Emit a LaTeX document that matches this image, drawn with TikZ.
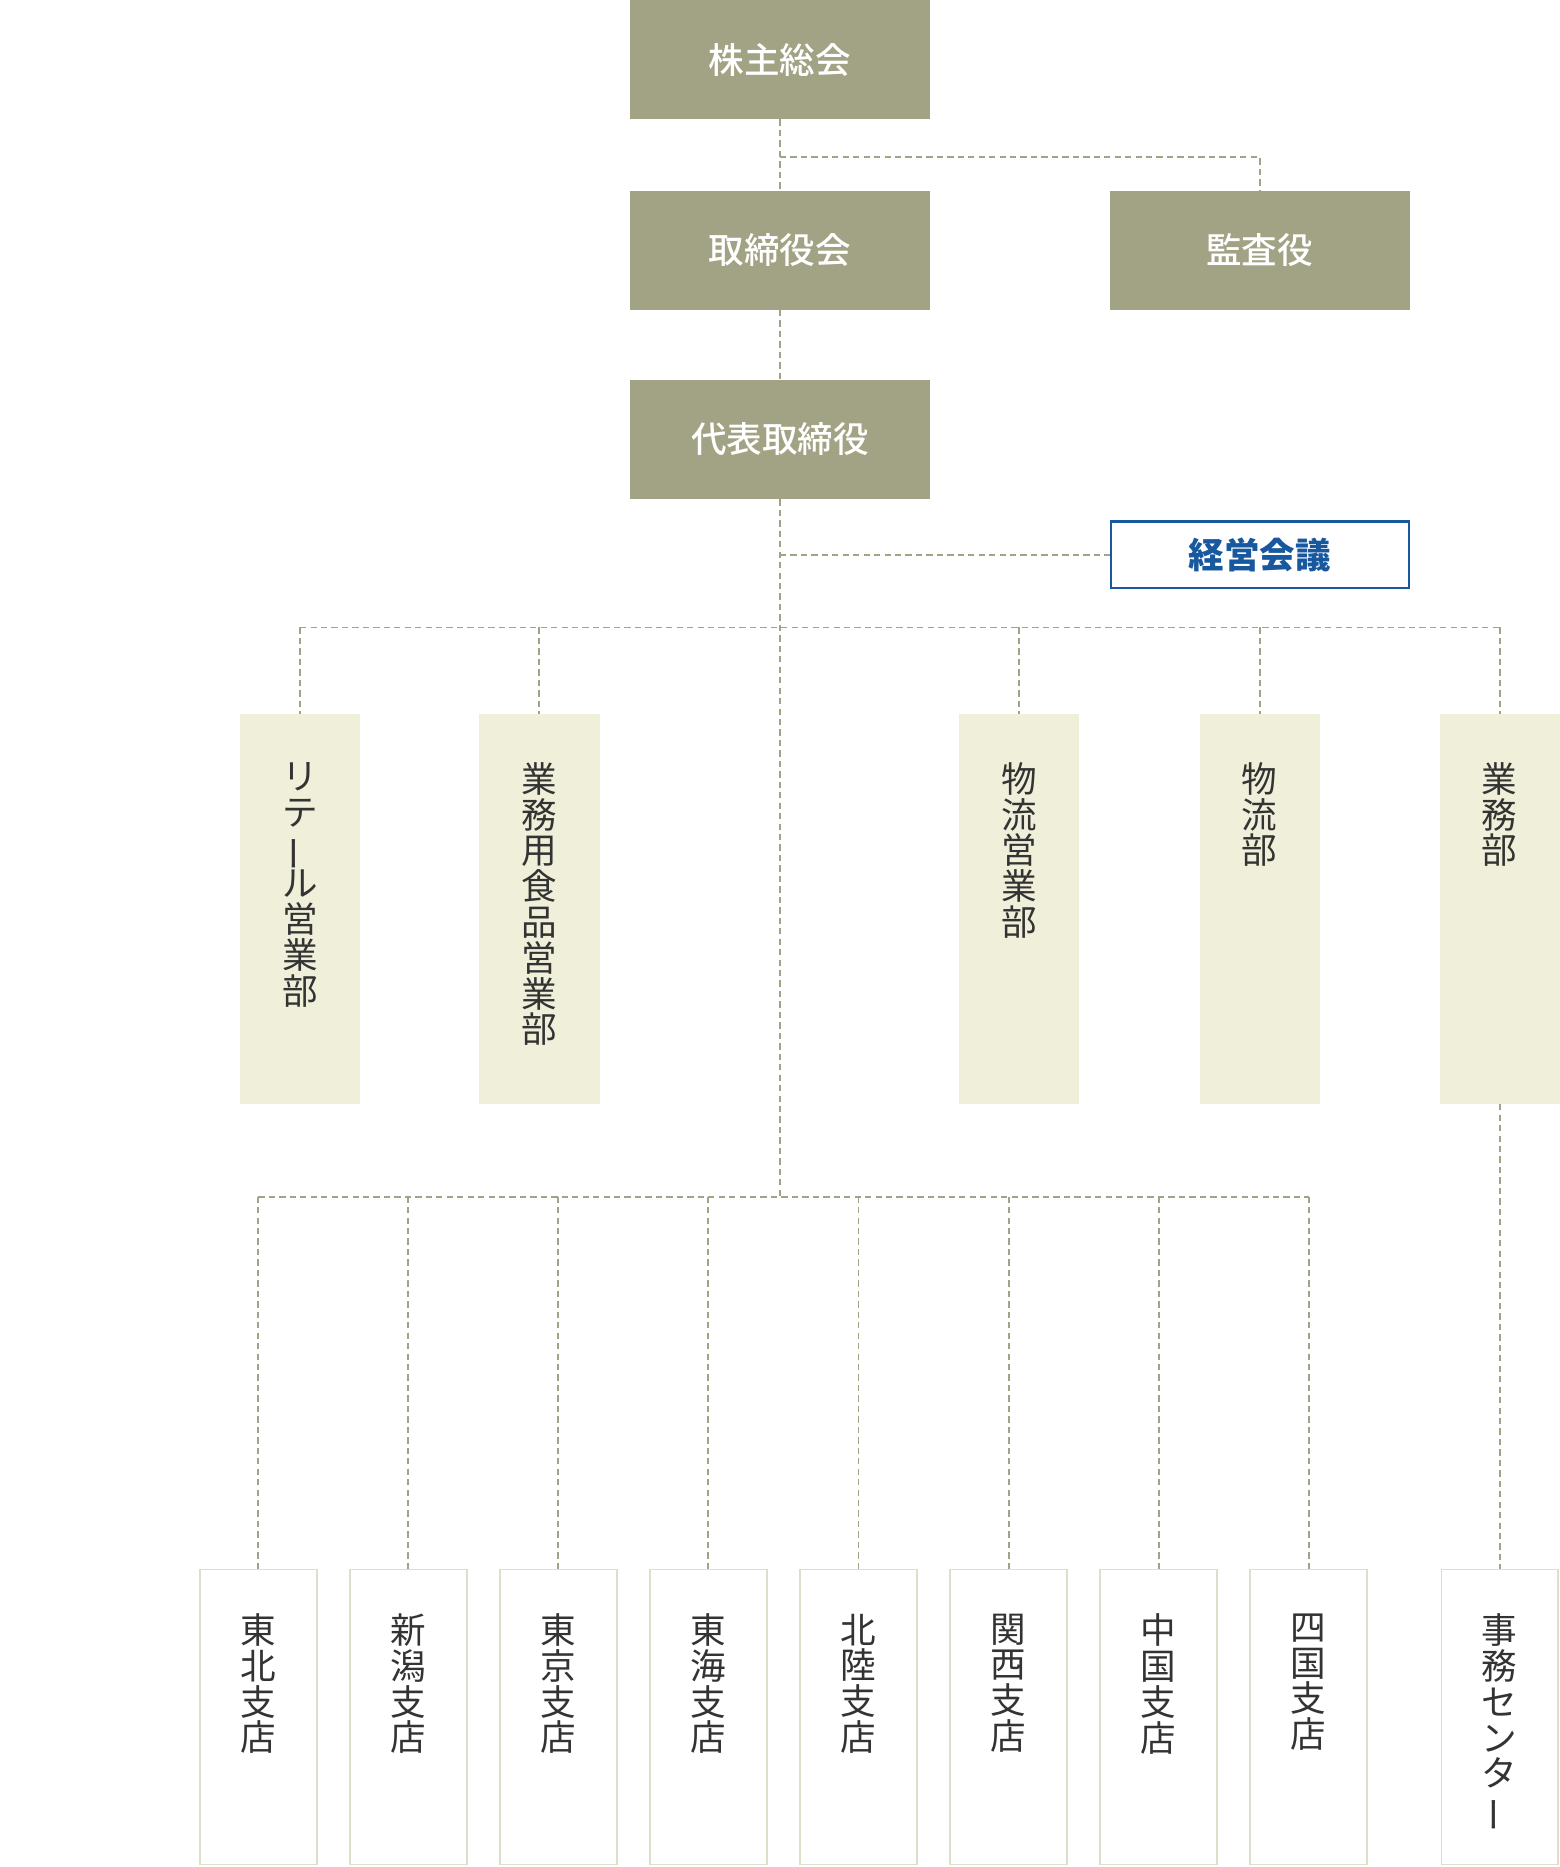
\documentclass[tikz,border=0pt]{standalone}
\usepackage{fontspec}
\setmainfont{Noto Sans CJK JP}
\newfontfamily\medfont{Noto Sans CJK JP Medium}
\usepackage{graphicx,xcolor}
\definecolor{orgolive}{RGB}{162,162,132}
\definecolor{orgcream}{RGB}{240,240,218}
\definecolor{orgline}{RGB}{222,222,202}
\definecolor{orgblue}{RGB}{24,88,158}
\definecolor{orgtext}{RGB}{51,51,51}
\usepackage{tikz}
\usetikzlibrary{positioning}
\newcommand{\chouon}{\rotatebox[origin=c]{90}{ー}}
\newcommand{\tightlines}{\setlength{\lineskiplimit}{-20pt}}

\begin{document}
\begin{tikzpicture}[
  x=0.02cm, y=-0.02cm,
  every node/.style={font=\fontsize{17}{17.1}\selectfont},
  topbox/.style={fill=orgolive,minimum width=5.04cm,minimum height=2cm,inner sep=0pt,
                 text=white,font=\fontsize{17}{17.1}\selectfont\medfont},
  meetbox/.style={draw=orgblue,line width=1pt,fill=white,minimum width=5.0cm,minimum height=1.12cm,
                  inner sep=0pt,text=orgblue,font=\fontsize{17}{17.1}\selectfont\bfseries},
  deptbox/.style={fill=orgcream,minimum width=2.02cm,minimum height=6.54cm,inner sep=0pt},
  branchbox/.style={draw=orgline,line width=0.8pt,fill=white,minimum width=1.96cm,
                    minimum height=4.96cm,inner sep=0pt},
  vlabel/.style={anchor=north,align=center,inner sep=0pt,text=orgtext,
                 font=\fontsize{17}{17.1}\selectfont\tightlines},
  link/.style={draw=orgolive,line width=0.95pt,dash pattern=on 3pt off 2pt},
]
  \fill[white] (0,0) rectangle (1310,1568);
  \useasboundingbox (0,0) rectangle (1310,1568);

  % Governance
  \node[topbox] (agm) at (655,50) {株主総会};
  \node[topbox] (board) at (655,210) {取締役会};
  \node[topbox] (audit) at (1058,210) {監査役};
  \node[topbox] (ceo) at (655,369) {代表取締役};
  \node[meetbox] (mgmt) at (1058,466) {経営会議};

  % Departments
  \node[deptbox] (retail) at (252,763.5) {};
  \node[vlabel] (retailtxt) at (252,640) {リ\\テ\\\chouon\\ル\\営\\業\\部};
  \node[deptbox] (foodsvc) at (453,763.5) {};
  \node[vlabel] (foodsvctxt) at (453,640) {業\\務\\用\\食\\品\\営\\業\\部};
  \node[deptbox] (logisales) at (856,763.5) {};
  \node[vlabel] (logisalestxt) at (856,640) {物\\流\\営\\業\\部};
  \node[deptbox] (logi) at (1058,763.5) {};
  \node[vlabel] (logitxt) at (1058,640) {物\\流\\部};
  \node[deptbox] (ops) at (1259.5,763.5) {};
  \node[vlabel] (opstxt) at (1259.5,640) {業\\務\\部};

  % Branches
  \node[branchbox] (tohoku) at (217,1442) {};
  \node[vlabel] (tohokutxt) at (217,1355) {東\\北\\支\\店};
  \node[branchbox] (niigata) at (343,1442) {};
  \node[vlabel] (niigatatxt) at (343,1355) {新\\潟\\支\\店};
  \node[branchbox] (tokyo) at (469,1442) {};
  \node[vlabel] (tokyotxt) at (469,1355) {東\\京\\支\\店};
  \node[branchbox] (tokai) at (595,1442) {};
  \node[vlabel] (tokaitxt) at (595,1355) {東\\海\\支\\店};
  \node[branchbox] (hokuriku) at (721,1442) {};
  \node[vlabel] (hokurikutxt) at (721,1355) {北\\陸\\支\\店};
  \node[branchbox] (kansai) at (847,1442) {};
  \node[vlabel] (kansaitxt) at (847,1355) {関\\西\\支\\店};
  \node[branchbox] (chugoku) at (973,1442) {};
  \node[vlabel] (chugokutxt) at (973,1355) {中\\国\\支\\店};
  \node[branchbox] (shikoku) at (1099,1442) {};
  \node[vlabel] (shikokutxt) at (1099,1355) {四\\国\\支\\店};
  \node[branchbox] (center) at (1259.5,1442) {};
  \node[vlabel] (centertxt) at (1259.5,1355) {事\\務\\セ\\ン\\タ\\\chouon};

  % Connectors
  \coordinate (govbus) at (655,132);
  \coordinate (deptbus) at (655,527);
  \coordinate (branchbus) at (655,1005);
  \draw[link] (agm) -- (board);
  \draw[link] (govbus) -| (audit);
  \draw[link] (board) -- (ceo);
  \draw[link] (ceo) -- (branchbus);
  \draw[link] (ceo.south |- mgmt.west) -- (mgmt);

  \draw[link] (retail.north |- deptbus) -- (ops.north |- deptbus);
  \draw[link] (retail.north |- deptbus) -- (retail);
  \draw[link] (foodsvc.north |- deptbus) -- (foodsvc);
  \draw[link] (logisales.north |- deptbus) -- (logisales);
  \draw[link] (logi.north |- deptbus) -- (logi);
  \draw[link] (ops.north |- deptbus) -- (ops);
  \draw[link] (ops) -- (center);

  \draw[link] (tohoku.north |- branchbus) -- (shikoku.north |- branchbus);
  \draw[link] (tohoku.north |- branchbus) -- (tohoku);
  \draw[link] (niigata.north |- branchbus) -- (niigata);
  \draw[link] (tokyo.north |- branchbus) -- (tokyo);
  \draw[link] (tokai.north |- branchbus) -- (tokai);
  \draw[link] (hokuriku.north |- branchbus) -- (hokuriku);
  \draw[link] (kansai.north |- branchbus) -- (kansai);
  \draw[link] (chugoku.north |- branchbus) -- (chugoku);
  \draw[link] (shikoku.north |- branchbus) -- (shikoku);
\end{tikzpicture}
\end{document}
